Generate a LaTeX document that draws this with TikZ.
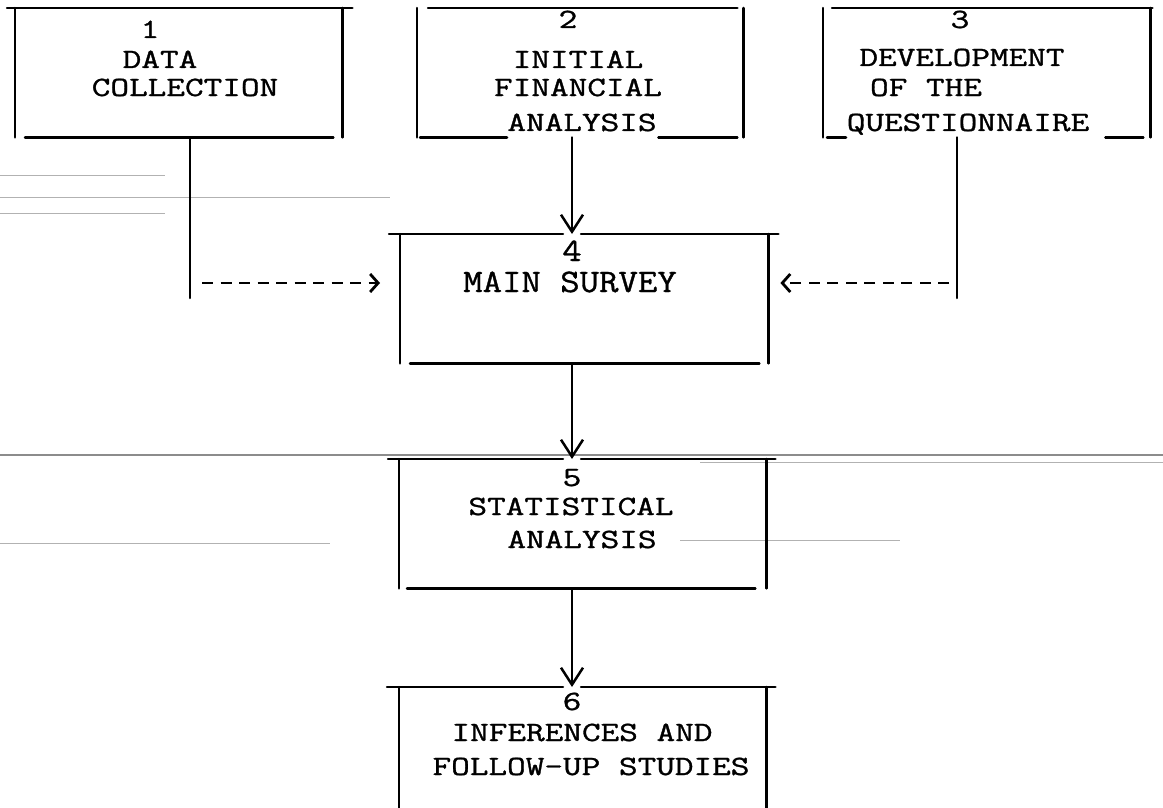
\documentclass[tikz,border=0pt]{standalone}
\usepackage{fontspec}
\usepackage{graphicx}
\usetikzlibrary{arrows.meta,calc}
% typewritten lines: Latin Modern Mono, inked a little heavier and slightly flattened
\newfontfamily\typefont{Latin Modern Mono}[FakeBold=1.0]
\newcommand\tw[1]{\scalebox{1}[0.77]{#1}}
\newcommand\twbig[1]{\scalebox{1}[0.87]{#1}}

\begin{document}
\begin{tikzpicture}[x=1pt,y=-1pt,
  rule/.style={line width=2.5pt, line cap=round},
  frame/.style={rectangle, inner sep=0pt, draw=none, anchor=north west},
  txt/.style={anchor=base, inner sep=0pt, font=\typefont\fontsize{36.2}{36.2}\selectfont},
  bigtxt/.style={anchor=base, inner sep=0pt, font=\typefont\fontsize{37.7}{37.7}\selectfont},
  flow/.style={rule, -{Straight Barb[length=17pt,width=22pt]}},
  feed/.style={line width=2.8pt, dash pattern=on 11pt off 7.5pt,
               -{Straight Barb[length=8pt,width=18pt]}},
  scan/.style={line width=0.9pt, black!30},
]
\useasboundingbox (0,0) rectangle (1163,808);
\clip (0,0) rectangle (1163,808);

% faint streaks of the scanned sheet
\draw[scan] (0,175) -- (165,175);
\draw[scan] (0,197) -- (390,197);
\draw[scan] (0,213) -- (165,213);
\draw[scan, black!45, line width=1.2pt] (0,455) -- (1163,455);
\draw[scan] (700,462) -- (1163,462);
\draw[scan] (0,543) -- (330,543);
\draw[scan] (680,540) -- (900,540);

% frames of the six steps
\node[frame, minimum width=327pt, minimum height=129pt] (b1) at (15,8) {};
\node[frame, minimum width=326pt, minimum height=129pt] (b2) at (417,8) {};
\node[frame, minimum width=327pt, minimum height=129pt] (b3) at (823,8) {};
\node[frame, minimum width=368pt, minimum height=129pt] (b4) at (400,234) {};
\node[frame, minimum width=367pt, minimum height=129pt] (b5) at (399,459) {};
\node[frame, minimum width=367pt, minimum height=143pt] (b6) at (399,687) {};

% columns of the connectors
\coordinate (c1) at (190,0);
\coordinate (c2) at (572,0);
\coordinate (c3) at (957,0);
\coordinate (m4) at (0,283);

% box 1
\draw[rule] ($(b1.north west)+(-8,0)$) -- ($(b1.north east)+(10,0)$);
\draw[rule] (b1.north west) -- (b1.south west);
\draw[rule] (b1.north east) -- (b1.south east);
\draw[rule] ($(b1.south west)+(10,0)$) -- ($(b1.south east)+(-9,0)$);
\node[txt] (n1) at (150,38) {\tw{1}};
\node[txt] (t1a) at (160,68) {\tw{DATA}};
\node[txt] (t1b) at (185,96) {\tw{COLLECTION}};

% box 2
\draw[rule] ($(b2.north west)+(11,0)$) -- ($(b2.north east)+(-6,0)$);
\draw[rule] (b2.north west) -- (b2.south west);
\draw[rule] (b2.north east) -- (b2.south east);
\draw[rule] ($(b2.south west)+(3,0)$) -- ($(b2.south west)+(90,0)$);
\draw[rule] ($(b2.south east)+(-85,0)$) -- ($(b2.south east)+(-6,0)$);
\node[txt] (n2) at (568,28) {\tw{2}};
\node[txt] (t2a) at (578,68) {\tw{INITIAL}};
\node[txt] (t2b) at (578,96) {\tw{FINANCIAL}};
\node[txt] (t2c) at (582,131) {\tw{ANALYSIS}};

% box 3
\draw[rule] ($(b3.north west)+(9,0)$) -- ($(b3.north east)+(2,0)$);
\draw[rule] (b3.north west) -- (b3.south west);
\draw[rule] (b3.north east) -- (b3.south east);
\draw[rule] ($(b3.south west)+(4,0)$) -- ($(b3.south west)+(23,0)$);
\draw[rule] ($(b3.south east)+(-45,0)$) -- ($(b3.south east)+(-7,0)$);
\node[txt] (n3) at (960,28) {\tw{3}};
\node[txt] (t3a) at (962,66) {\tw{DEVELOPMENT}};
\node[txt] (t3b) at (926,96) {\tw{OF THE}};
\node[txt] (t3c) at (968,131) {\tw{QUESTIONNAIRE}};

% box 4
\draw[rule] ($(b4.north west)+(-11,0)$) -- ($(b4.north -| c2)+(-9,0)$);
\draw[rule] ($(b4.north -| c2)+(9,0)$) -- ($(b4.north east)+(10,0)$);
\draw[rule] (b4.north west) -- (b4.south west);
\draw[rule] (b4.north east) -- (b4.south east);
\draw[rule] ($(b4.south west)+(10,0)$) -- ($(b4.south east)+(-9,0)$);
\node[bigtxt] (n4) at (572,261) {\twbig{4}};
\node[bigtxt] (t4a) at (570,292) {\twbig{MAIN SURVEY}};

% box 5
\draw[rule] ($(b5.north west)+(-11,0)$) -- ($(b5.north -| c2)+(-9,0)$);
\draw[rule] ($(b5.north -| c2)+(9,0)$) -- ($(b5.north east)+(9,0)$);
\draw[rule] (b5.north west) -- (b5.south west);
\draw[rule] (b5.north east) -- (b5.south east);
\draw[rule] ($(b5.south west)+(8,0)$) -- ($(b5.south east)+(-11,0)$);
\node[txt] (n5) at (572,486) {\tw{5}};
\node[txt] (t5a) at (571,515) {\tw{STATISTICAL}};
\node[txt] (t5b) at (582,548) {\tw{ANALYSIS}};

% box 6
\draw[rule] ($(b6.north west)+(-12,0)$) -- ($(b6.north -| c2)+(-9,0)$);
\draw[rule] ($(b6.north -| c2)+(9,0)$) -- ($(b6.north east)+(9,0)$);
\draw[rule] (b6.north west) -- (b6.south west);
\draw[rule] (b6.north east) -- (b6.south east);
\node[txt] (n6) at (572,710) {\tw{6}};
\node[txt] (t6a) at (582,741) {\tw{INFERENCES AND}};
\node[txt] (t6b) at (591,775) {\tw{FOLLOW-UP STUDIES}};

% main flow
\draw[flow] (b2.south -| c2) -- (b4.north -| c2);
\draw[flow] (b4.south -| c2) -- (b5.north -| c2);
\draw[flow] (b5.south -| c2) -- (b6.north -| c2);

% side feeds into the main survey
\coordinate (e1) at (190,298);
\coordinate (e3) at (957,298);
\draw[rule] (b1.south -| c1) -- (e1);
\draw[rule] (b3.south -| c3) -- (e3);
\draw[feed] ($(c1 |- m4)+(12,0)$) -- ($(b4.west |- m4)+(-20,0)$);
\draw[feed] ($(c3 |- m4)+(-8,0)$) -- ($(b4.east |- m4)+(12,0)$);
\end{tikzpicture}
\end{document}
